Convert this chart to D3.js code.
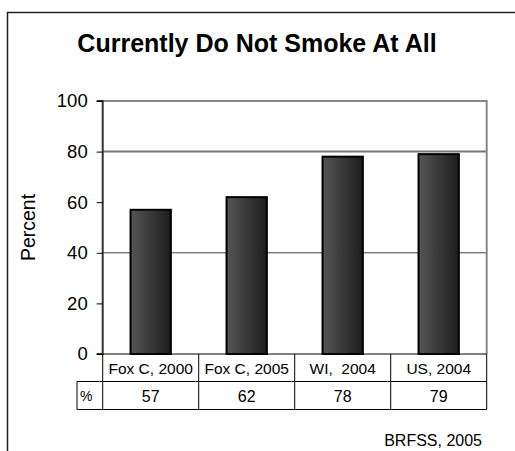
<!DOCTYPE html>
<html>
<head>
<meta charset="utf-8">
<script src="https://cdn.jsdelivr.net/npm/d3@7"></script>
<style>
  html, body { margin: 0; padding: 0; background: #fff; }
  svg { display: block; font-family: Arial, "Liberation Sans", sans-serif; }
</style>
</head>
<body>
<svg id="chart" width="515" height="451"></svg>
<script>
const categories = ["Fox C, 2000", "Fox C, 2005", "WI,  2004", "US, 2004"];
const values = [57, 62, 78, 79];
const yTicks = [0, 20, 40, 60, 80, 100];
const gridValues = [40, 80];
const title = "Currently Do Not Smoke At All";
const yLabel = "Percent";
const rowLabel = "%";
const source = "BRFSS, 2005";

const svg = d3.select("#chart");

// outer frame
svg.append("path")
  .attr("d", "M7.5,451 L7.5,12.5 L515,12.5")
  .attr("fill", "none").attr("stroke", "#222").attr("stroke-width", 1.5);

const pLeft = 102.7, pRight = 486.7, pTop = 101, pBottom = 354;

const x = d3.scaleBand().domain(categories).range([pLeft, pRight]).paddingInner(0.58).paddingOuter(0.29);
const col = d3.scaleBand().domain(categories).range([pLeft, pRight]).padding(0);
const y = d3.scaleLinear().domain([0, 100]).range([pBottom, pTop]);

// gradient
const defs = svg.append("defs");
const grad = defs.append("linearGradient").attr("id", "barGrad").attr("x1", "0").attr("x2", "1").attr("y1", "0").attr("y2", "0");
grad.append("stop").attr("offset", "0%").attr("stop-color", "#555");
grad.append("stop").attr("offset", "100%").attr("stop-color", "#1c1c1c");

// title
svg.append("text").attr("x", 257).attr("y", 52).attr("text-anchor", "middle")
  .attr("font-size", 25).attr("font-weight", "bold").attr("fill", "#000").text(title);

// gridlines
svg.append("g").selectAll("line").data(gridValues).join("line")
  .attr("x1", pLeft).attr("x2", pRight)
  .attr("y1", d => y(d)).attr("y2", d => y(d))
  .attr("stroke", d => d === 80 ? "#777" : "#444")
  .attr("stroke-width", d => d === 80 ? 2 : 1);

// plot top & right border
svg.append("path")
  .attr("d", `M${pLeft},${y(100)} L${pRight},${y(100)} L${pRight},${y(0)}`)
  .attr("fill", "none").attr("stroke", "#888").attr("stroke-width", 2);

// bars
svg.append("g").selectAll("rect").data(values).join("rect")
  .attr("x", (d, i) => x(categories[i]))
  .attr("width", x.bandwidth())
  .attr("y", d => y(d))
  .attr("height", d => y(0) - y(d))
  .attr("fill", "url(#barGrad)")
  .attr("stroke", "#000").attr("stroke-width", 2);

// y axis
const yAxis = d3.axisLeft(y).tickValues(yTicks).tickSize(6).tickPadding(9).tickFormat(d3.format("d"));
const gy = svg.append("g").attr("transform", `translate(${pLeft},0)`).call(yAxis);
gy.select(".domain").attr("stroke", "#333").attr("stroke-width", 2).attr("d", `M-6,${y(100)}H0V${y(0)}H-6`);
gy.selectAll(".tick line").attr("stroke", "#000");
gy.selectAll(".tick text").attr("font-size", 18.5).attr("fill", "#000").attr("font-family", "Arial, 'Liberation Sans', sans-serif");

// y label
svg.append("text").attr("transform", `translate(35,${(pTop + pBottom) / 2}) rotate(-90)`)
  .attr("text-anchor", "middle").attr("font-size", 19.5).attr("fill", "#000").text(yLabel);

// data table
const rowTop = pBottom, rowMid = 381.5, rowBot = 409.5, tableLeft = 77;
const tbl = svg.append("g").attr("stroke", "#000").attr("stroke-width", 1);
tbl.append("line").attr("x1", pLeft).attr("x2", pRight).attr("y1", rowTop).attr("y2", rowTop);
tbl.append("line").attr("x1", tableLeft).attr("x2", pRight).attr("y1", rowMid).attr("y2", rowMid);
tbl.append("line").attr("x1", tableLeft).attr("x2", pRight).attr("y1", rowBot).attr("y2", rowBot);
tbl.append("line").attr("x1", tableLeft).attr("x2", tableLeft).attr("y1", rowMid).attr("y2", rowBot);
tbl.append("line").attr("x1", pLeft).attr("x2", pLeft).attr("y1", rowTop).attr("y2", rowBot);
tbl.selectAll(".vd").data(categories).join("line").attr("class", "vd")
  .attr("x1", d => col(d) + col.bandwidth()).attr("x2", d => col(d) + col.bandwidth())
  .attr("y1", rowTop).attr("y2", rowBot);

svg.append("g").selectAll("text").data(categories).join("text")
  .attr("x", d => col(d) + col.bandwidth() / 2).attr("y", 374)
  .attr("text-anchor", "middle").attr("font-size", 15.5).attr("fill", "#000")
  .style("white-space", "pre")
  .text(d => d);

svg.append("g").selectAll("text").data(values).join("text")
  .attr("x", (d, i) => col(categories[i]) + col.bandwidth() / 2).attr("y", 401.5)
  .attr("text-anchor", "middle").attr("font-size", 16).attr("fill", "#000")
  .text(d => d);

svg.append("text").attr("x", 80).attr("y", 401).attr("font-size", 14).attr("fill", "#000").text(rowLabel);

// source
svg.append("text").attr("x", 482).attr("y", 446).attr("text-anchor", "end")
  .attr("font-size", 16).attr("fill", "#000").text(source);
</script>
</body>
</html>
